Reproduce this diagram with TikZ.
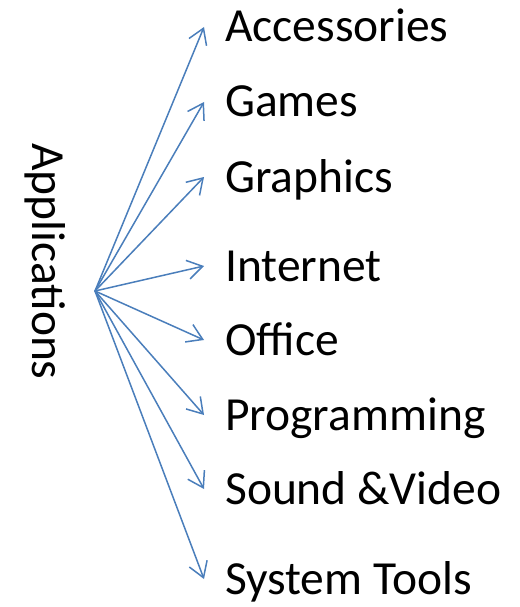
\documentclass[tikz,border=0pt]{standalone}
\usepackage{fontspec}
\setmainfont{Carlito}
\usetikzlibrary{arrows.meta,calc}
\definecolor{arrowblue}{RGB}{74,126,187}
\begin{document}
\begin{tikzpicture}[x=1pt,y=-1pt,
  lbl/.style={anchor=base west, inner sep=0pt, font=\fontsize{47.5}{57}\selectfont},
  conn/.style={draw=arrowblue, line width=1.5pt, -{Straight Barb[length=15pt,width=19pt]}}]
\useasboundingbox (0,0) rectangle (519,607);
\node[rotate=-90, anchor=base, inner sep=0pt, font=\fontsize{47.5}{57}\selectfont] (app) at (32,261.5) {Applications};
\coordinate (src) at (95,291);
\node[lbl] (l1) at (225,42) {Accessories};
\node[lbl] (l2) at (225,117) {Games};
\node[lbl] (l3) at (225,192) {Graphics};
\node[lbl] (l4) at (225,281) {Internet};
\node[lbl] (l5) at (225,355) {Office};
\node[lbl] (l6) at (225,430) {Programming};
\node[lbl] (l7) at (225,504) {Sound \&Video};
\node[lbl] (l8) at (225,594) {System Tools};
\foreach \i in {1,...,8}{
  \coordinate (t\i) at ($(l\i.base west)+(-21,-15)$);
  \draw[conn] (src) -- (t\i);
}
\end{tikzpicture}
\end{document}
